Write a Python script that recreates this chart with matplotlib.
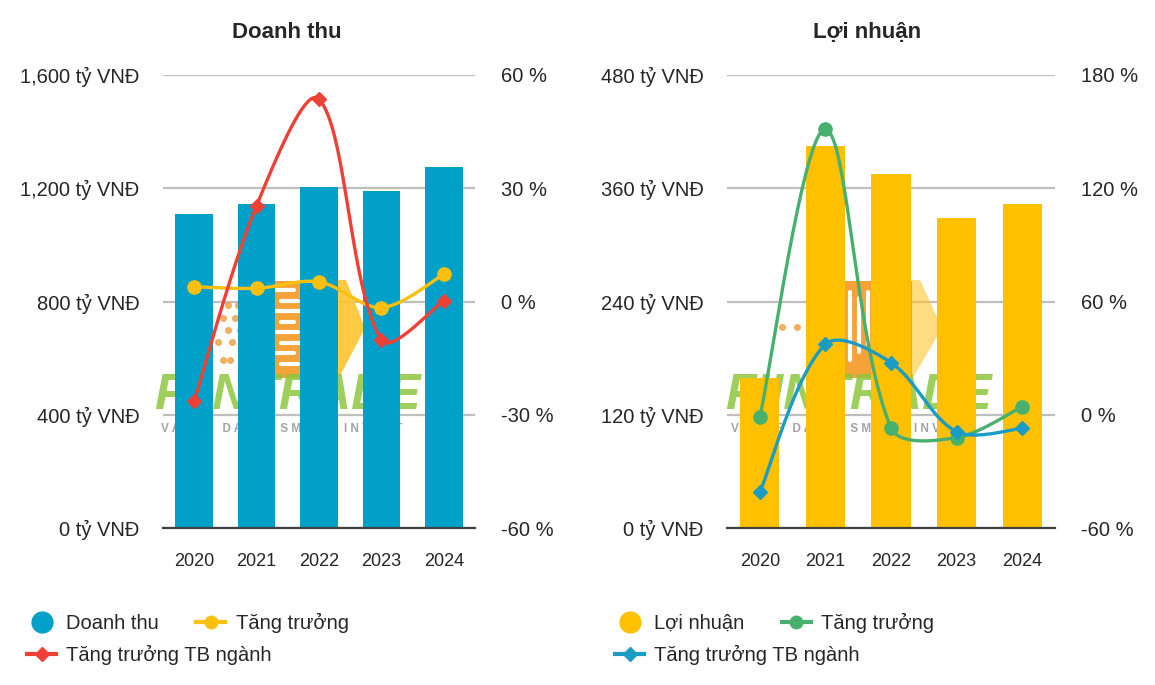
import numpy as np
import matplotlib
matplotlib.use("Agg")
import matplotlib.pyplot as plt
from matplotlib.lines import Line2D
from matplotlib.patches import Rectangle, Polygon
from matplotlib.ticker import FuncFormatter

plt.rcParams['font.family'] = ['Liberation Sans', 'DejaVu Sans']

# data
years = ['2020', '2021', '2022', '2023', '2024']
doanh_thu = [1110, 1145, 1205, 1190, 1275]
dt_tang_truong = [3.9, 3.5, 5.2, -1.6, 7.2]
dt_tb_nganh = [-26.4, 25.4, 53.6, -10.2, 0.2]
loi_nhuan = [159, 405, 375, 328, 343]
ln_tang_truong = [-1.4, 151.2, -6.9, -12.1, 4.3]
ln_tb_nganh = [-41.1, 37.3, 27.6, -9.0, -7.2]

TXT = '#262626'
BLUE = '#00A0C8'
GOLD = '#FFC000'
YLINE = '#FDC010'
RED = '#EE4035'
GREEN = '#48B06E'
TEAL = '#1A9CC4'

W, H = 1155, 685
TOP, BOT = 75, 528


def smooth(xs, ys, sx, sy, n=40):
    # bezier smoothing similar to spreadsheet "smoothed line"
    X = np.asarray(xs, float) * sx
    Y = np.asarray(ys, float) * sy
    P = np.column_stack([X, Y])
    N = len(P)
    d = np.hypot(np.diff(X), np.diff(Y))
    t = np.linspace(0, 1, n)[:, None]
    out = []
    for i in range(N - 1):
        if i == 0:
            c1 = P[0] + (P[1] - P[0]) / 6
        else:
            c1 = P[i] + (P[i + 1] - P[i - 1]) * d[i] / (d[i - 1] + d[i]) / 3
        if i + 1 == N - 1:
            c2 = P[i + 1] - (P[i + 1] - P[i]) / 6
        else:
            c2 = P[i + 1] - (P[i + 2] - P[i]) * d[i] / (d[i] + d[i + 1]) / 3
        seg = (1 - t) ** 3 * P[i] + 3 * (1 - t) ** 2 * t * c1 + 3 * (1 - t) * t ** 2 * c2 + t ** 3 * P[i + 1]
        out.append(seg if i == 0 else seg[1:])
    out = np.vstack(out)
    return out[:, 0] / sx, out[:, 1] / sy


fig = plt.figure(figsize=(W / 100, H / 100), dpi=100)


def logo(ax, left_px, width_px, rect_x, chev_x, chev_alpha, vertical):
    # watermark logo sitting behind the bars (pixel positions -> axes fraction)
    fx = lambda px: (px - left_px) / width_px
    fy = lambda py: (BOT - py) / (BOT - TOP)
    tr = ax.transAxes
    x0, x1 = rect_x
    ax.add_patch(Rectangle((fx(x0), fy(378)), fx(x1) - fx(x0), fy(281) - fy(378),
                           transform=tr, color='#F5A238', zorder=1, lw=0))
    c0, c1 = chev_x
    ax.add_patch(Polygon([(fx(c0), fy(280)), (fx(c0 + 8), fy(280)), (fx(c1), fy(328)),
                          (fx(c0 + 2), fy(376)), (fx(c0), fy(376))],
                         transform=tr, color='#FFC52E', alpha=chev_alpha, zorder=1, lw=0))
    if vertical:
        for k, xs in enumerate(np.arange(x0 + 8, x1, 9)):
            ax.plot([fx(xs), fx(xs)], [fy(292 + 6 * (k % 2)), fy(360 - 8 * (k % 3))],
                    transform=tr, color='white', lw=3, solid_capstyle='round', zorder=1.1)
    else:
        for k, ys in enumerate(np.arange(290, 372, 10.5)):
            ax.plot([fx(x0 + 8 + 5 * (k % 2)), fx(x0 + 26 + 4 * (k % 3))], [fy(ys), fy(ys)],
                    transform=tr, color='white', lw=3, solid_capstyle='round', zorder=1.1)
    # little dots left of the block
    dots = [(x0 - 40, 305), (x0 - 30, 305), (x0 - 45, 318), (x0 - 33, 318),
            (x0 - 40, 330), (x0 - 28, 330), (x0 - 50, 342), (x0 - 36, 342), (x0 - 45, 360), (x0 - 38, 360)]
    if vertical:
        dots = [(x0 - 60, 327), (x0 - 45, 327)]
    for px, py in dots:
        ax.plot(fx(px), fy(py), 'o', ms=4, color='#F0A040', alpha=0.8, transform=tr,
                zorder=1, clip_on=False)
    # brand text
    ax.text(fx(left_px + 0.40 * width_px), fy(396), 'FIINTRADE', transform=tr, ha='center',
            va='center', fontsize=36, fontweight='bold', fontstyle='italic', color='#8DC63F',
            alpha=0.85, zorder=1, clip_on=False)
    ax.text(fx(left_px + 0.38 * width_px), fy(429), 'V A L U E   D A T A  -  S M A R T   I N V E S T',
            transform=tr, ha='center', va='center', fontsize=8.5, fontweight='bold',
            color='#8C8C8C', alpha=0.8, zorder=1, clip_on=False)


def panel(left_px, right_px, title, bars, bar_color, ymax, g1, c1, g2, c2, pmin, pmax, pticks,
          title_x, rect_x, chev_x, chev_alpha, vertical):
    x0 = left_px / W
    w = (right_px - left_px) / W
    ax = fig.add_axes([x0, 1 - BOT / H, w, (BOT - TOP) / H])
    x = np.arange(len(years))
    ax.set_axisbelow(True)
    ax.bar(x, bars, width=0.6, color=bar_color, zorder=2)
    ax.set_xlim(-0.5, len(years) - 0.5)
    ax.set_ylim(0, ymax)
    ax.set_yticks(np.linspace(0, ymax, 5))
    ax.yaxis.set_major_formatter(FuncFormatter(lambda v, p: f'{v:,.0f} tỷ VNĐ'))
    ax.set_xticks(x, years)
    ax.grid(axis='y', color='#BFBFBF', lw=1.6)
    ax.grid(axis='x', visible=False)
    for s in ['top', 'left', 'right']:
        ax.spines[s].set_visible(False)
    ax.spines['bottom'].set_color('#404040')
    ax.spines['bottom'].set_linewidth(1.6)
    ax.tick_params(axis='y', length=0, pad=17, labelsize=14.5, labelcolor=TXT)
    ax.tick_params(axis='x', length=0, pad=18, labelsize=13, labelcolor=TXT)
    fig.text(title_x / W, 1 - 33 / H, title, ha='center', va='center', fontsize=16,
             fontweight='bold', color=TXT)

    logo(ax, left_px, right_px - left_px, rect_x, chev_x, chev_alpha, vertical)

    ax2 = ax.twinx()
    ax2.set_ylim(pmin, pmax)
    ax2.set_yticks(pticks)
    ax2.yaxis.set_major_formatter(FuncFormatter(lambda v, p: f'{v:.0f} %'))
    for s in ax2.spines.values():
        s.set_visible(False)
    ax2.tick_params(axis='y', length=0, pad=19, labelsize=14.5, labelcolor=TXT)

    sx = (right_px - left_px) / len(years)
    sy = (BOT - TOP) / (pmax - pmin)
    for vals, col, mk, ms in [(g1, c1, 'o', 9.5), (g2, c2, 'D', 7)]:
        cx, cy = smooth(x, vals, sx, sy)
        ax2.plot(cx, cy, color=col, lw=2.4, zorder=3, solid_capstyle='round')
        ax2.plot(x, vals, ls='none', marker=mk, ms=ms, color=col, zorder=4)
    return ax, ax2


panel(163, 475, 'Doanh thu', doanh_thu, BLUE, 1600,
      dt_tang_truong, YLINE, dt_tb_nganh, RED, -60, 60, [-60, -30, 0, 30, 60],
      287, (268, 338), (338, 365), 0.9, False)
panel(727, 1055, 'Lợi nhuận', loi_nhuan, GOLD, 480,
      ln_tang_truong, GREEN, ln_tb_nganh, TEAL, -60, 180, [-60, 0, 60, 120, 180],
      867, (842, 912), (912, 942), 0.6, True)

# legends
leg_kw = dict(loc='center left', frameon=False, borderpad=0, borderaxespad=0,
              handlelength=1.45, handletextpad=0.5, columnspacing=1.85, fontsize=14.5,
              labelcolor=TXT)


def add_legends(xpx, bar_label, bar_color, c1, c2):
    h1 = Line2D([], [], ls='none', marker='o', ms=15, color=bar_color)
    h2 = Line2D([], [], color=c1, lw=3, marker='o', ms=9)
    h3 = Line2D([], [], color=c2, lw=3, marker='D', ms=7)
    fig.legend([h1, h2], [bar_label, 'Tăng trưởng'], ncol=2,
               bbox_to_anchor=(xpx / W, 1 - 623 / H), **leg_kw)
    fig.legend([h3], ['Tăng trưởng TB ngành'],
               bbox_to_anchor=(xpx / W, 1 - 655 / H), **leg_kw)


add_legends(27, 'Doanh thu', BLUE, YLINE, RED)
add_legends(615, 'Lợi nhuận', GOLD, GREEN, TEAL)

fig.savefig('out.png', dpi=100, facecolor='white')
